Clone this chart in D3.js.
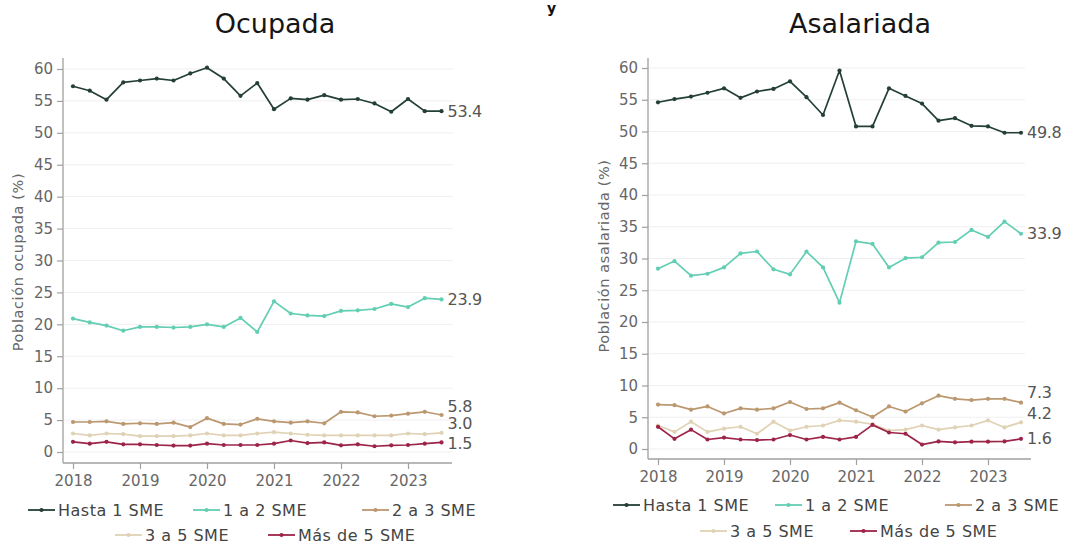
<!DOCTYPE html>
<html><head><meta charset="utf-8">
<script src="https://cdn.jsdelivr.net/npm/d3@7"></script>
<style>
html,body{margin:0;padding:0;background:#fff;}
svg{display:block;font-family:"DejaVu Sans",sans-serif;}
</style></head>
<body>
<svg id="c" width="1091" height="544"></svg>
<script>
// ---- data ----
const quarters = ["2018T1","2018T2","2018T3","2018T4","2019T1","2019T2","2019T3","2019T4","2020T1","2020T2","2020T3","2020T4","2021T1","2021T2","2021T3","2021T4","2022T1","2022T2","2022T3","2022T4","2023T1","2023T2","2023T3"];
const yearLabels = ["2018","2019","2020","2021","2022","2023"];
const yearTickIndex = [0,4,8,12,16,20];
const yTicks = [0,5,10,15,20,25,30,35,40,45,50,55,60];
const seriesNames = ["Hasta 1 SME","1 a 2 SME","2 a 3 SME","3 a 5 SME","Más de 5 SME"];
const panelTitles = ["Ocupada","Asalariada"];
const axisTitles = ["Población ocupada (%)","Población asalariada (%)"];

const ocHasta1 = [57.3,56.6,55.2,57.9,58.2,58.5,58.2,59.3,60.2,58.5,55.8,57.8,53.7,55.4,55.2,55.9,55.2,55.3,54.6,53.3,55.3,53.4,53.4];
const oc1a2   = [20.9,20.3,19.8,19.0,19.6,19.6,19.5,19.6,20.0,19.6,21.0,18.8,23.6,21.7,21.4,21.3,22.1,22.2,22.4,23.2,22.7,24.1,23.9];
const oc2a3   = [4.7,4.7,4.8,4.4,4.5,4.4,4.6,3.9,5.3,4.4,4.3,5.2,4.8,4.6,4.8,4.5,6.3,6.2,5.6,5.7,6.0,6.3,5.8];
const oc3a5   = [2.9,2.6,2.9,2.8,2.5,2.5,2.5,2.6,2.9,2.6,2.6,2.9,3.1,2.9,2.7,2.6,2.6,2.6,2.6,2.6,2.9,2.8,3.0];
const ocMas5  = [1.6,1.3,1.6,1.2,1.2,1.1,1.0,1.0,1.3,1.1,1.1,1.1,1.3,1.8,1.4,1.5,1.05,1.2,0.9,1.05,1.1,1.3,1.5];

const asHasta1 = [54.6,55.1,55.5,56.1,56.8,55.3,56.3,56.7,57.9,55.4,52.6,59.6,50.8,50.8,56.8,55.6,54.4,51.7,52.1,50.9,50.8,49.8,49.8];
const as1a2   = [28.4,29.6,27.3,27.6,28.6,30.8,31.1,28.3,27.5,31.1,28.6,23.05,32.7,32.3,28.6,30.05,30.2,32.5,32.6,34.5,33.4,35.8,33.9];
const as2a3   = [7.0,6.9,6.2,6.7,5.6,6.4,6.2,6.4,7.4,6.3,6.4,7.3,6.1,5.05,6.7,5.9,7.2,8.4,7.9,7.7,7.9,7.9,7.3];
const as3a5   = [3.7,2.7,4.3,2.7,3.2,3.5,2.4,4.3,2.9,3.5,3.7,4.5,4.3,3.9,2.9,3.05,3.7,3.05,3.4,3.7,4.5,3.4,4.2];
const asMas5  = [3.5,1.6,3.05,1.5,1.8,1.5,1.4,1.5,2.2,1.5,1.9,1.5,1.9,3.8,2.6,2.4,0.7,1.2,1.05,1.15,1.15,1.2,1.6];

const endLabelsOc = ["53.4","23.9","5.8","3.0","1.5"];
const endLabelsAs = ["49.8","33.9","7.3","4.2","1.6"];

// ---- styles ----
const colors = ["#243f38","#62ceb3","#bb9870","#e0d2b4","#9d2449"];
const panelData = [[ocHasta1,oc1a2,oc2a3,oc3a5,ocMas5],[asHasta1,as1a2,as2a3,as3a5,asMas5]];
const endLabels = [endLabelsOc,endLabelsAs];
const labelDy = [[0,0,-8,-9,1],[0,0,-10,-9,0]];

const layout = [
  {x0:63, x1:452, xFirst:73, xLast:408, yTop:58, yBot:463, y0:452, y60:69, gridEnd:453,
   titleX:275, labX:18, labCY:262, legendRows:[510,535],
   legend:[{s:0,x:28},{s:1,x:193},{s:2,x:362},{s:3,x:115},{s:4,x:268}], legRow:[0,0,0,1,1]},
  {x0:648, x1:1031, xFirst:658, xLast:988, yTop:58, yBot:459, y0:449, y60:68, gridEnd:1025,
   titleX:860, labX:604, labCY:256, legendRows:[505,531],
   legend:[{s:0,x:613},{s:1,x:775},{s:2,x:945},{s:3,x:700},{s:4,x:850}], legRow:[0,0,0,1,1]}
];

const svg = d3.select("#c");

// fragment of main title at top
svg.append("text").attr("x",547).attr("y",13).attr("font-size",14).attr("font-weight","bold")
  .attr("fill","#111").text("y");

layout.forEach((L,p)=>{
  const g = svg.append("g");
  const x = d3.scaleLinear().domain([0,20]).range([L.xFirst,L.xLast]);
  const y = d3.scaleLinear().domain([0,60]).range([L.y0,L.y60]);

  g.append("text").attr("x",L.titleX).attr("y",33).attr("text-anchor","middle")
    .attr("font-size",27).attr("fill","#161616").text(panelTitles[p]);

  g.append("g").selectAll("line").data(yTicks).join("line")
    .attr("x1",L.x0+1).attr("x2",L.gridEnd).attr("y1",d=>y(d)).attr("y2",d=>y(d))
    .attr("stroke","#efefef").attr("stroke-width",1);

  const ya = g.append("g").attr("transform",`translate(${L.x0},0)`)
    .call(d3.axisLeft(y).tickValues(yTicks).tickSize(6).tickPadding(4));
  ya.select(".domain").attr("d",`M0,${L.yTop}V${L.yBot}`);
  const xa = g.append("g").attr("transform",`translate(0,${L.yBot})`)
    .call(d3.axisBottom(x).tickValues(yearTickIndex).tickFormat((d,i)=>yearLabels[i]).tickSize(6).tickPadding(6));
  xa.select(".domain").attr("d",`M${L.x0},0H${L.x1}`);
  [ya,xa].forEach(a=>{
    a.select(".domain").attr("stroke","#a0a0a0").attr("stroke-width",1.3);
    a.selectAll(".tick line").attr("stroke","#a0a0a0").attr("stroke-width",1.2);
    a.selectAll(".tick text").attr("fill","#666").attr("font-size",15).attr("font-family","DejaVu Sans");
  });

  g.append("text").attr("transform",`translate(${L.labX},${L.labCY}) rotate(-90)`)
    .attr("text-anchor","middle").attr("dominant-baseline","central")
    .attr("font-size",14.5).attr("letter-spacing",0.6).attr("fill","#666").text(axisTitles[p]);

  const line = d3.line().x((d,i)=>x(i)).y(d=>y(d));
  const order = [3,2,4,1,0];
  order.forEach(s=>{
    const vals = panelData[p][s];
    g.append("path").datum(vals).attr("d",line).attr("fill","none")
      .attr("stroke",colors[s]).attr("stroke-width",1.7).attr("stroke-linejoin","round");
    g.append("g").selectAll("circle").data(vals).join("circle")
      .attr("cx",(d,i)=>x(i)).attr("cy",d=>y(d)).attr("r",2.1).attr("fill",colors[s]);
  });
  panelData[p].forEach((vals,s)=>{
    const n = vals.length-1;
    g.append("text").attr("x",x(n)+6).attr("y",y(vals[n])+labelDy[p][s])
      .attr("dominant-baseline","central").attr("font-size",16).attr("fill","#555")
      .attr("letter-spacing",-0.3).text(endLabels[p][s]);
  });

  L.legend.forEach((it,k)=>{
    const yy = L.legendRows[L.legRow[k]];
    const lg = g.append("g").attr("transform",`translate(${it.x},${yy})`);
    lg.append("line").attr("x1",0).attr("x2",27).attr("y1",0).attr("y2",0)
      .attr("stroke",colors[it.s]).attr("stroke-width",1.8);
    lg.append("circle").attr("cx",13.5).attr("cy",0).attr("r",2.1).attr("fill",colors[it.s]);
    lg.append("text").attr("x",30).attr("y",0).attr("dominant-baseline","central")
      .attr("font-size",16).attr("letter-spacing",0.5).attr("fill","#444").text(seriesNames[it.s]);
  });
});
</script>
</body></html>
